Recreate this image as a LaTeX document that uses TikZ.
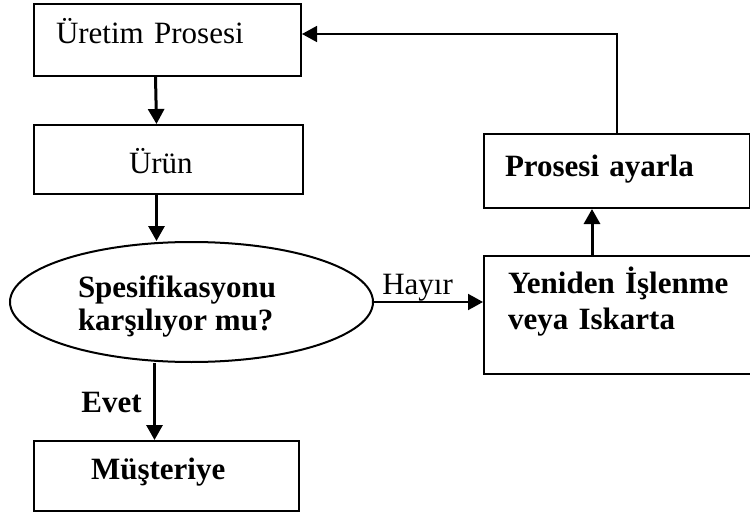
\documentclass[tikz,border=0pt]{standalone}
\usepackage{fontspec}
\setmainfont{Liberation Serif}
\usetikzlibrary{shapes.geometric, arrows.meta, positioning}

\tikzset{
  box/.style={draw, line width=2pt, inner ysep=0pt, align=left, anchor=north west},
  arr/.style={-{Triangle[length=15pt,width=16pt]}, line width=3pt},
}

\begin{document}
\begin{tikzpicture}[x=1pt, y=-1pt, font=\fontsize{31}{36}\selectfont]
  \useasboundingbox (0,0) rectangle (750,516);

  % left column
  \node[box, text width=223pt, inner xsep=22pt, text height=40pt, text depth=32pt] (uretim) at (33,3) {Üretim Prosesi};
  \node[box, text width=79pt, inner xsep=95pt, text height=49pt, text depth=20pt] (urun) at (33,124) {Ürün};
  \node[ellipse, draw, line width=2pt, minimum width=363pt, minimum height=120pt, inner sep=0pt] (spec) at (191.5,302)
    {\smash{\makebox[0pt][l]{\hspace{-113.5pt}\raisebox{-28pt}{\vbox{\baselineskip=33pt\lineskiplimit=-20pt
      \hbox{\bfseries Spesifikasyonu}\hbox{\bfseries karşılıyor mu?}}}}}};
  \node[box, text width=151pt, inner xsep=57pt, text height=38pt, text depth=32pt, font=\fontsize{31}{36}\selectfont\bfseries] (musteri) at (33,440) {Müşteriye};

  % right column
  \node[box, text width=224pt, inner xsep=21pt, text height=42pt, text depth=32pt, font=\fontsize{31}{36}\selectfont\bfseries] (ayarla) at (483,133) {Prosesi ayarla};
  \node[box, text width=248pt, inner xsep=24pt, text height=37pt, text depth=81pt, font=\fontsize{31}{36}\selectfont\bfseries] (yeniden) at (483,255) {Yeniden İşlenme\\veya Iskarta};

  % connectors
  \draw[arr] ([xshift=-12pt]uretim.south) -- ([xshift=-12pt]urun.north);
  \draw[arr] ([xshift=-12pt]urun.south) -- ([xshift=-12pt]urun.south |- spec.north);
  \draw[arr] ([xshift=-12pt]musteri.north |- spec.south) -- node[left, xshift=-8pt, pos=0.51, font=\fontsize{31}{36}\selectfont\bfseries] (evet) {Evet} ([xshift=-12pt]musteri.north);
  \draw[arr, line width=2pt] (spec.east) -- node[above, pos=0.4, inner sep=0pt] (hayir) {Hayır} (spec.east -| yeniden.west);
  \draw[arr] ([xshift=-25pt]ayarla.south |- yeniden.north) -- ([xshift=-25pt]ayarla.south);
  \draw[arr, line width=1.5pt] (ayarla.north) |- ([yshift=6pt]uretim.east);
\end{tikzpicture}
\end{document}
